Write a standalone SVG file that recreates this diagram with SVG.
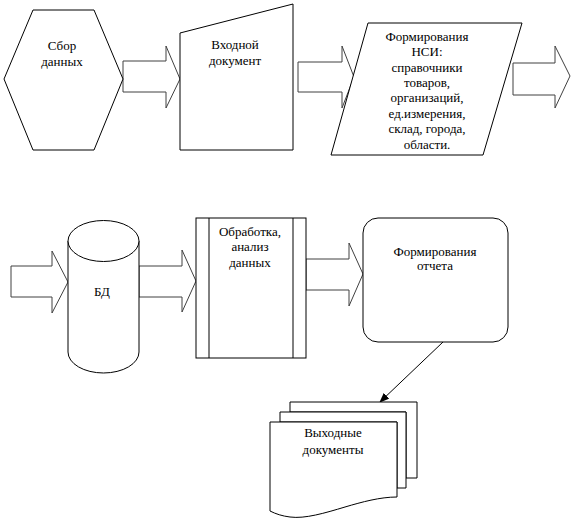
<svg xmlns="http://www.w3.org/2000/svg" width="571" height="520" viewBox="0 0 571 520">
<style>
.s{fill:#fff;stroke:#000;stroke-width:1}
.a{fill:#fff;stroke:#404040;stroke-width:1}
.t{font-size:13px;fill:#000;text-anchor:middle}
</style>
<defs>
<marker id="ah" markerWidth="10" markerHeight="8" refX="9" refY="4" orient="auto" markerUnits="userSpaceOnUse">
<path d="M0,0 L10,4 L0,8 Z" fill="#000"/>
</marker>
</defs>
<rect width="571" height="520" fill="#fff"/>
<g id="connectors">
<path class="a" d="M123,61 H166 V46 L180,79 L166,108 V92 H123 Z"/>
<path class="a" d="M298,62 H342 V46 L354,77 L342,108 V92 H298 Z"/>
<path class="a" d="M513,63 H555 V46 L570,76 L555,108 V95 H513 Z"/>
<path class="a" d="M11,266 H52 V251 L68,282 L52,313 V297 H11 Z"/>
<path class="a" d="M139,266 H182 V250 L196,281 L182,312 V297 H139 Z"/>
<path class="a" d="M306,259 H349 V243 L363,274 L349,306 V290 H306 Z"/>
<line x1="443" y1="342" x2="380" y2="402" stroke="#000" stroke-width="1" marker-end="url(#ah)"/>
</g>
<g font-family="Liberation Serif, serif">
<g id="sbor">
<polygon class="s" points="33,10 94,10 123,79 94,150 33,150 4,79"/>
<text class="t" x="62" y="50">Сбор</text>
<text class="t" x="62" y="66">данных</text>
</g>
<g id="vhod">
<polygon class="s" points="180,33 293,4 293,150 180,150"/>
<text class="t" x="235" y="49">Входной</text>
<text class="t" x="235" y="65">документ</text>
</g>
<g id="nsi">
<polygon class="s" points="368,23 522,23 483,155 331,155"/>
<text class="t" x="427" y="41">Формирования</text>
<text class="t" x="427" y="56">НСИ:</text>
<text class="t" x="427" y="72">справочники</text>
<text class="t" x="427" y="87">товаров,</text>
<text class="t" x="427" y="102">организаций,</text>
<text class="t" x="427" y="118">ед.измерения,</text>
<text class="t" x="427" y="133">склад, города,</text>
<text class="t" x="427" y="149">области.</text>
</g>
<g id="bd">
<path class="s" d="M68,241 V352 A35.5,21 0 0 0 139,352 V241"/>
<ellipse class="s" cx="103.5" cy="241" rx="35.5" ry="20.5"/>
<text class="t" x="102" y="296">БД</text>
</g>
<g id="obrabotka">
<rect class="s" x="196" y="218" width="110" height="140"/>
<line x1="209" y1="218" x2="209" y2="358" stroke="#000"/>
<line x1="293" y1="218" x2="293" y2="358" stroke="#000"/>
<text class="t" x="250" y="236">Обработка,</text>
<text class="t" x="250" y="251">анализ</text>
<text class="t" x="250" y="267">данных</text>
</g>
<g id="otchet">
<rect class="s" x="363" y="218" width="145" height="124" rx="15" ry="15"/>
<text class="t" x="435" y="256">Формирования</text>
<text class="t" x="435" y="270">отчета</text>
</g>
<g id="vyhod">
<path class="s" d="M290,402 H417 V478 H406 V412 H290 Z"/>
<path class="s" d="M280,412 H406 V488 H397 V422 H280 Z"/>
<path class="s" d="M270,422 H397 V497 C380,497 362,502 345,507 C325,513 305,519 290,517 C282,516 276,514 270,511 Z"/>
<text class="t" x="333" y="437">Выходные</text>
<text class="t" x="333" y="454">документы</text>
</g>
</g>
</svg>
